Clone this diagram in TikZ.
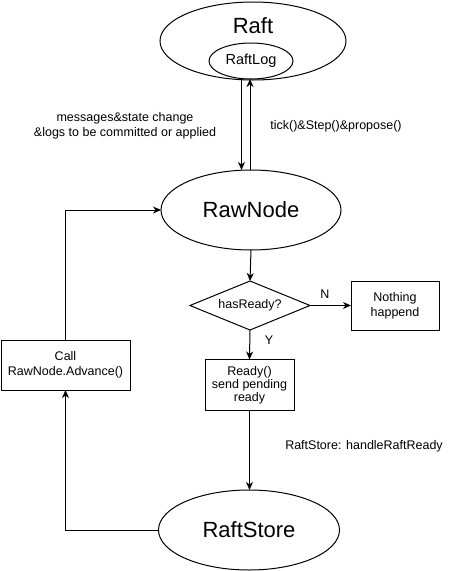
\documentclass[tikz,border=0pt]{standalone}
\usepackage{fontspec}
\setmainfont{Liberation Sans}
\usetikzlibrary{shapes.geometric,arrows.meta}
\begin{document}
\begin{tikzpicture}[x=1pt,y=-1pt,
  every node/.style={inner sep=0pt,outer sep=0pt},
  line/.style={line width=1pt,draw=black},
  arr/.style={line width=1pt,-{Stealth[length=8pt,width=7pt,inset=2.5pt]}},
  ell/.style={ellipse,draw,line width=1pt},
  boxn/.style={rectangle,draw,line width=1pt,align=center,font=\fontsize{12.5}{15}\selectfont},
  big/.style={font=\fontsize{22}{26}\selectfont},
  lbl/.style={font=\fontsize{12.5}{15}\selectfont,align=center}]
\useasboundingbox (0,0) rectangle (461,571);
% Raft
\node[ell,minimum width=186pt,minimum height=78pt] (raft) at (253,41) {};
\node[big] (rafttxt) at (253,26) {Raft};
\node[ell,minimum width=84pt,minimum height=36pt,font=\fontsize{14.5}{17}\selectfont] (raftlog) at (251,61) {RaftLog};
% RawNode
\node[ell,minimum width=180pt,minimum height=80pt,big] (rawnode) at (251,210) {RawNode};
% connectors Raft <-> RawNode
\draw[arr] ([xshift=-9.5pt]raftlog.south) -- ([xshift=-9.5pt]rawnode.north);
\draw[arr] ([xshift=-1pt]rawnode.north) -- ([xshift=-1pt]raftlog.south);
\node[lbl] (lmsg) at (125,125.5) {messages\&state change\\\&logs to be committed or applied};
\node[lbl] (ltick) at (336,126) {tick()\&Step()\&propose()};
% decision
\node[diamond,draw,line width=1pt,minimum width=120pt,minimum height=49pt,shape aspect=2.45,font=\fontsize{12.5}{15}\selectfont] (dec) at (250,305.5) {hasReady?};
\node[boxn,minimum width=88pt,minimum height=49pt] (nothing) at (395,305.5) {Nothing\\happend};
\node[boxn,minimum width=89pt,minimum height=51pt,font=\fontsize{12.5}{13}\selectfont] (ready) at (249.5,385) {Ready()\\send pending\\ready};
\node[boxn,minimum width=129pt,minimum height=50pt] (call) at (65.5,365) {Call\\RawNode.Advance()};
\node[ell,minimum width=181pt,minimum height=80pt,big] (raftstore) at (249,530) {RaftStore};
% connectors
\draw[arr] (rawnode.south) -- (dec.north);
\draw[arr] (dec.east) -- (nothing.west);
\node[lbl] (ln) at (325,294) {N};
\draw[arr] (dec.south) -- (ready.north);
\node[lbl] (ly) at (269,340) {Y};
\draw[arr] (ready.south) -- (ready.south |- raftstore.north);
\node[lbl] (lrs) at (364,446) {RaftStore: handleRaftReady};
\draw[arr] (raftstore.west) -| (call.south);
\draw[arr] (call.north) |- (rawnode.west);
\end{tikzpicture}
\end{document}
